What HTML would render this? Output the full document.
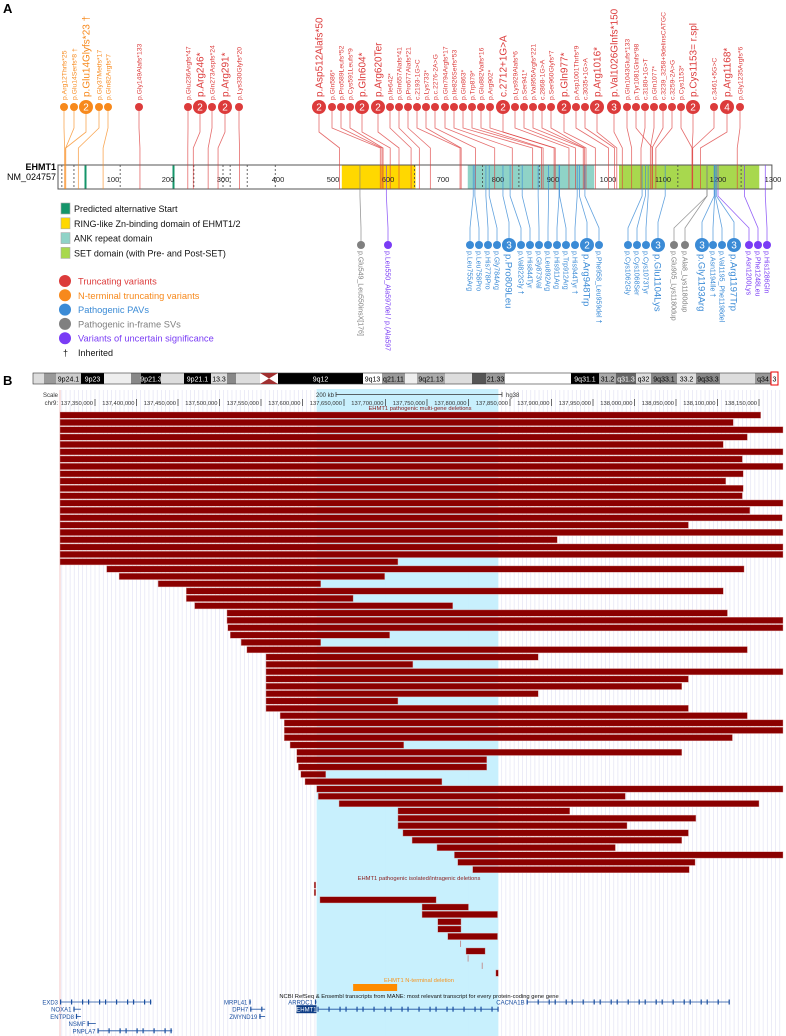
<!DOCTYPE html>
<html><head><meta charset="utf-8"><style>
body{margin:0;background:#fff;width:786px;height:1036px;overflow:hidden}
svg{display:block;font-family:"Liberation Sans",Arial,sans-serif}
</style></head><body>
<svg id="fig" width="786" height="1036" viewBox="0 0 786 1036" xmlns="http://www.w3.org/2000/svg">
<text x="3" y="13" font-size="13" font-weight="bold">A</text>
<text x="3" y="385" font-size="13" font-weight="bold">B</text>
<g id="gA"></g>
<g id="gB"></g>
</svg>
<script>
// ===== Panel A data =====
const domainNames=["RING-like","ANK","SET"];
const domainStart=[516,745,1020];
const domainEnd=[650,975,1275];
const domainColors=["#ffd800","#8fd3c7","#a8d84e"];
const altStarts=[50,210];
const exonBounds=[7,29,113,247,300,313,344,395,648,772,838,875,1127,1242];
const topLabels=["p.Arg12Thrfs*25","p.Glu14Serfs*8 †","p.Glu14Glyfs*23 †","p.Gly37Metfs*17","p.Gln82Argfs*7","p.Gly149Alafs*133","p.Glu236Argfs*47","p.Arg246*","p.Gln273Aspfs*24","p.Arg291*","p.Lys330Glyfs*20","p.Asp512Alafs*50","p.Gln586*","p.Pro589Leufs*52","p.Cys591Leufs*9","p.Gln604*","p.Arg620Ter","p.Ile642*","p.Gln657Alafs*41","p.Pro677Alafs*21","c.2193-1G>C","p.Lys733*","p.c.2276-2A>G","p.Gln794Argfs*17","p.Ile826Serfs*53","p.Gln863*","p.Trp879*","p.Glu882Valfs*16","p.Arg902*","c.2712+1G>A","p.Lys929Alafs*6","p.Ser941*","p.Val955Argfs*221","c.2868-1G>A","p.Ser960Glyfs*7","p.Gln977*","p.Asp1001Thrfs*9","c.3035+1G>A","p.Arg1016*","p.Val1026Glnfs*150","p.Gln1043Glufs*133","p.Tyr1081Glnfs*98","c.3180+1G>T","p.Gln1077*","c.3239_3258+9delinsCATGC","c.3259-2A>G","p.Cys1153*","p.Cys1153= r.spl","c.3461+5G>C","p.Arg1168*","p.Gly1235Argfs*6"];
const topAA=[12,14,14,37,82,149,236,246,273,291,330,512,586,589,591,604,620,642,657,677,731,733,759,794,826,863,879,882,902,904,929,941,955,957,960,977,1001,1012,1016,1026,1043,1081,1060,1077,1080,1087,1153,1153,1154,1168,1235];
const topCount=[1,1,2,1,1,1,1,2,1,2,1,2,1,1,1,2,2,1,1,1,1,1,1,1,1,1,1,1,1,2,1,1,1,1,1,2,1,1,2,3,1,1,1,1,1,1,1,2,1,4,1];
const topClass=["N","N","N","N","N","T","T","T","T","T","T","T","T","T","T","T","T","T","T","T","T","T","T","T","T","T","T","T","T","T","T","T","T","T","T","T","T","T","T","T","T","T","T","T","T","T","T","T","T","T","T"];
// lollipop head layout (label slots, px)
const topSlotX=[64,74,86,99,108,139,188,200,212,225,239,319,332,341,350,362,378,390,399,408,417,426,435,445,454,463,472,481,490,503,515,524,533,542,551,564,576,585,597,614,627,636,645,654,663,672,681,693,714,727,740];
const botLabels=["p.Glu549_Leu550insX[176]","p.Leu550_Ala597del / p.(Ala597","p.Leu755Arg","p.Leu758Pro","p.His778Pro","p.Gly784Arg","p.Pro809Leu","p.Val822Gly †","p.His844Tyr","p.Gly873Val","p.Leu892Arg","p.His911Arg","p.Trp912Arg","p.His944Tyr †","p.Arg948Trp","p.Phe958_Leu959del †","p.Cys1062Gly","p.Cys1068Ser","p.Cys1073Tyr","p.Glu1104Lys","p.Glu905_Lys1180dup","p.Ala8_Lys1180dup","p.Gly1193Arg","p.Asn1194Ile †","p.Val1195_Phe1198del","p.Arg1197Trp","p.Asn1200Lys","p.Phe1248Leu","p.His1286Gln"];
const botAA=[549,597,755,758,778,784,809,822,844,873,892,911,912,944,948,958,1062,1068,1073,1104,1180,1180,1193,1194,1195,1197,1200,1248,1286];
const botCount=[1,1,1,1,1,1,3,1,1,1,1,1,1,1,2,1,1,1,1,3,1,1,3,1,1,3,1,1,1];
const botClass=["G","U","P","P","P","P","P","P","P","P","P","P","P","P","P","P","P","P","P","P","G","G","P","P","P","P","U","U","U"];
const botSlotX=[361,388,470,479,488,497,509,521,530,539,548,557,566,575,587,599,628,637,646,658,674,685,702,713,722,734,749,758,767];

// ===== Panel B data =====
const tickLabels=["137,350,000","137,400,000","137,450,000","137,500,000","137,550,000","137,600,000","137,650,000","137,700,000","137,750,000","137,800,000","137,850,000","137,900,000","137,950,000","138,000,000","138,050,000","138,100,000","138,150,000"];
const tickKb=[137350,137400,137450,137500,137550,137600,137650,137700,137750,137800,137850,137900,137950,138000,138050,138100,138150];
const multiStart=[137300,137300,137300,137300,137300,137300,137300,137300,137300,137300,137300,137300,137300,137300,137300,137300,137300,137300,137300,137300,137300,137364,137379,137426,137460,137460,137470,137509,137509,137510,137513,137526,137533,137556,137556,137556,137556,137556,137556,137556,137556,137573,137578,137578,137578,137585,137593,137593,137595,137598,137603,137617,137619,137644,137715,137715,137715,137721,137732,137762,137783,137787,137805];
const multiEnd=[138152,138119,138200,138136,138107,138200,138130,138200,138131,138110,138131,138130,138200,138139,138178,138065,138200,137907,138200,138200,137715,138132,137699,137622,138107,137661,137781,138112,138200,138200,137705,137622,138136,137884,137733,138200,138065,138057,137884,137715,138065,138136,138200,138200,138118,137722,138057,137822,137822,137628,137768,138200,137989,138150,137922,138074,137991,138065,138057,137977,138200,138073,138066];
const isoStart=[137614,137614,137621,137744,137744,137763,137763,137775,137790,137797,137799,137816,137833];
const isoEnd=[137616,137616,137761,137800,137835,137791,137791,137835,137791,137820,137800,137817,137836];
const ntermStart=[137661];
const ntermEnd=[137714];
const geneNames=["EXD3","MRPL41","ARRDC1","CACNA1B","NOXA1","DPH7","EHMT1","ENTPD8","ZMYND19","NSMF","PNPLA7"];
const geneStart=[137300,137536,137615,137870,137324,137537,137618,137327,137548,137341,137353];
const geneEnd=[137418,137538,137617,138114,137333,137555,137836,137333,137555,137351,137443];
const geneRow=[0,0,0,0,1,1,1,2,2,3,4];

const NS="http://www.w3.org/2000/svg";
function mk(tag,attrs,parent,txt){const e=document.createElementNS(NS,tag);for(const k in attrs)e.setAttribute(k,attrs[k]);if(txt!==undefined)e.textContent=txt;parent.appendChild(e);return e;}
const colorOf={T:"#dc3b3b",N:"#f7891c",P:"#3b8bd6",G:"#808080",U:"#7a3cf5"};
const gA=document.getElementById('gA'), gB=document.getElementById('gB');

// ---- Panel A ----
const ax=aa=>58+aa*0.55;
const barY=165, barH=24;
let t=mk('text',{x:56,y:170,'font-size':9,'font-weight':'bold','text-anchor':'end'},gA,'EHMT1');

t=mk('text',{x:56,y:180,'font-size':9,'text-anchor':'end'},gA,'NM_024757');

let r=mk('rect',{x:ax(0),y:barY,width:ax(1298)-ax(0),height:barH,fill:'#fff',stroke:'#555','stroke-width':1},gA);

domainStart.forEach((s,i)=>{const d=mk('rect',{x:ax(s),y:barY+0.5,width:ax(domainEnd[i])-ax(s),height:barH-1,fill:domainColors[i]},gA);
});
altStarts.forEach(a=>{const l=mk('rect',{x:ax(a)-1,y:barY+0.5,width:2,height:barH-1,fill:'#14956a'},gA);
});
exonBounds.forEach(a=>{const l=mk('line',{x1:ax(a),x2:ax(a),y1:barY,y2:barY+barH,stroke:'#444','stroke-dasharray':'2,2','stroke-width':0.8},gA);
});
for(let k=1;k<=13;k++){const tl=mk('text',{x:ax(k*100),y:barY+17,'font-size':7.5,'text-anchor':'middle',fill:'#222'},gA,String(k*100));
}
// top lollipops
topAA.forEach((aa,i)=>{
  const c=colorOf[topClass[i]], x=ax(aa), cx=topSlotX[i], cy=107, big=topCount[i]>1, rr=big?7:4;
  const p=mk('polyline',{points:`${x},${barY+barH} ${x},148 ${cx},${big?132:128} ${cx},${cy}`,fill:'none',stroke:c,'stroke-width':0.8,opacity:0.75},gA);
  
  const ci=mk('circle',{cx:cx,cy:cy,r:rr,fill:c},gA);
  
  if(big){const n=mk('text',{x:cx,y:cy+3.5,'font-size':10,fill:'#fff','text-anchor':'middle'},gA,String(topCount[i]));
    }
  const fs=big?10:6.8, ly=cy-rr-3;
  const lt=mk('text',{x:cx+fs*0.35,y:ly,'font-size':fs,fill:c,transform:`rotate(-90 ${cx+fs*0.35} ${ly})`},gA,topLabels[i]);
  
});
// bottom lollipops
botAA.forEach((aa,i)=>{
  const c=colorOf[botClass[i]], x=ax(aa), cx=botSlotX[i], cy=245, big=botCount[i]>1, rr=big?7:4;
  const p=mk('polyline',{points:`${x},${barY} ${x},196 ${cx},${big?222:228} ${cx},${cy}`,fill:'none',stroke:c,'stroke-width':0.8,opacity:0.8},gA);
  
  const ci=mk('circle',{cx:cx,cy:cy,r:rr,fill:c},gA);
  
  if(big){const n=mk('text',{x:cx,y:cy+3.5,'font-size':10,fill:'#fff','text-anchor':'middle'},gA,String(botCount[i]));
    }
  const fs=big?9.5:7, ly=cy+rr+2;
  const lt=mk('text',{x:cx-fs*0.35,y:ly,'font-size':fs,fill:c,transform:`rotate(90 ${cx-fs*0.35} ${ly})`},gA,botLabels[i]);
  
});
// legend
const legBox=["Predicted alternative Start","RING-like Zn-binding domain of EHMT1/2","ANK repeat domain","SET domain (with Pre- and Post-SET)"];
const legBoxC=["#14956a","#ffd800","#8fd3c7","#a8d84e"];
legBox.forEach((s,i)=>{const y=203+i*14.8;
  const b=mk('rect',{x:61,y:y,width:9,height:11,fill:legBoxC[i],stroke:'#aaa','stroke-width':0.6},gA);
  
  const tt=mk('text',{x:74,y:y+9,'font-size':9,fill:'#111'},gA,s);
  });
const legCirc=["Truncating variants","N-terminal truncating variants","Pathogenic PAVs","Pathogenic in-frame SVs","Variants of uncertain significance"];
const legCircC=["#dc3b3b","#f7891c","#3b8bd6","#808080","#7a3cf5"];
legCirc.forEach((s,i)=>{const y=281+i*14.3;
  const b=mk('circle',{cx:65,cy:y,r:6,fill:legCircC[i]},gA);
  
  const tt=mk('text',{x:78,y:y+3.5,'font-size':9.3,fill:legCircC[i]},gA,s);
  });
t=mk('text',{x:63,y:356,'font-size':9,fill:'#111'},gA,'†');

t=mk('text',{x:78,y:356,'font-size':9,fill:'#111'},gA,'Inherited');


// ---- Panel B ----
const L=60,R=783;
const gx=kb=>344+(kb-137650)*41.5/50;
const cx=kb=>Math.max(L,Math.min(R,gx(kb)));
// ideogram
const bandS=[33,44,56,81,104,131,141,161,184,211,227,236,278,363,382,405,417,445,472,486,505,571,599,616,636,651,677,696,720,755];
const bandE=[44,56,81,104,131,141,161,184,211,227,236,260,363,382,405,417,445,472,486,505,571,599,616,636,651,677,696,720,755,771];
const bandF=["#ddd","#999","#ccc","#000","#eee","#888","#000","#ddd","#000","#ddd","#888","#ddd","#000","#fff","#999","#eee","#aaa","#ddd","#555","#999","#fff","#000","#aaa","#666","#ddd","#888","#ddd","#888","#ddd","#999"];
const bandT=["","","9p24.1","9p23","","","9p21.3","","9p21.1","13.3","","","9q12","9q13","q21.11","","9q21.13","","","21.33","","9q31.1","31.2","q31.3","q32","9q33.1","33.2","9q33.3","","q34"];
bandS.forEach((s,i)=>{const b=mk('rect',{x:s,y:373,width:bandE[i]-s,height:11,fill:bandF[i]},gB);
  
  if(bandT[i]){const dark=["#000","#555","#666"].includes(bandF[i]);
   const tt=mk('text',{x:(s+bandE[i])/2,y:381.5,'font-size':7,'text-anchor':'middle',fill:dark?'#fff':'#000'},gB,bandT[i]);
   }});
t=mk('rect',{x:33,y:373,width:738,height:11,fill:'none',stroke:'#333','stroke-width':0.6},gB);

t=mk('polygon',{points:'260,373 278,373 269,378.5 278,384 260,384 269,378.5',fill:'#a03030'},gB);

t=mk('rect',{x:771,y:372,width:7,height:13,fill:'#fff',stroke:'#e00','stroke-width':1},gB);

t=mk('text',{x:774.5,y:381.5,'font-size':7,'text-anchor':'middle'},gB,'3');

// grid + highlight
for(let kb=137310;kb<=138180;kb+=5){const x=gx(kb);if(x<L||x>R)continue;
  const l=mk('line',{x1:x,x2:x,y1:390,y2:1036,stroke:'#e4e4f4','stroke-width':0.7},gB);
  }
t=mk('rect',{x:gx(137617),y:389,width:gx(137836)-gx(137617),height:647,fill:'#c5effd',opacity:0.95},gB);

t=mk('line',{x1:L,x2:L,y1:390,y2:1036,stroke:'#f3c4c4','stroke-width':1},gB);

// ruler
t=mk('text',{x:58,y:397,'font-size':6,'text-anchor':'end',fill:'#333'},gB,'Scale');

t=mk('text',{x:58,y:405,'font-size':6,'text-anchor':'end',fill:'#333'},gB,'chr9:');

t=mk('text',{x:334,y:397,'font-size':6,'text-anchor':'end',fill:'#333'},gB,'200 kb');

t=mk('path',{d:`M336,392 V397 M336,394.5 H${336+166} M${336+166},392 V397`,stroke:'#333','stroke-width':0.7,fill:'none'},gB);

t=mk('text',{x:506,y:397,'font-size':6,fill:'#333'},gB,'hg38');

tickKb.forEach((kb,i)=>{const x=gx(kb);
  const l=mk('line',{x1:x,x2:x,y1:399,y2:406,stroke:'#333','stroke-width':0.7},gB);
  
  const tt=mk('text',{x:x-2,y:405,'font-size':5.8,'text-anchor':'end',fill:'#333'},gB,tickLabels[i]);
  });
t=mk('text',{x:420,y:410,'font-size':5.8,'text-anchor':'middle',fill:'#8b2020'},gB,'EHMT1 pathogenic multi-gene deletions');

const pitch=7.33;
multiStart.forEach((s,i)=>{const x1=cx(s),x2=cx(multiEnd[i]);
  const b=mk('rect',{x:x1,y:412+i*pitch,width:Math.max(1,x2-x1),height:6.3,fill:'#8b0000',stroke:'#d9a0a0','stroke-width':0.4},gB);
  });
t=mk('text',{x:419,y:880,'font-size':5.8,'text-anchor':'middle',fill:'#8b2020'},gB,'EHMT1 pathogenic isolated/intragenic deletions');

isoStart.forEach((s,i)=>{const x1=cx(s),x2=cx(isoEnd[i]);const w=x2-x1;
  const b=mk('rect',{x:x1,y:882+i*pitch,width:Math.max(0.8,w),height:6.3,fill:w<1.5?'#c08080':'#8b0000',stroke:w<1.5?'none':'#d9a0a0','stroke-width':0.4},gB);
  });
t=mk('text',{x:419,y:982,'font-size':5.8,'text-anchor':'middle',fill:'#f7941d'},gB,'EHMT1 N-terminal deletion');

ntermStart.forEach((s,i)=>{const b=mk('rect',{x:cx(s),y:984,width:cx(ntermEnd[i])-cx(s),height:7,fill:'#ff8c00'},gB);
  });
t=mk('text',{x:419,y:998,'font-size':5.8,'text-anchor':'middle',fill:'#111'},gB,'NCBI RefSeq & Ensembl transcripts from MANE: most relevant transcript for every protein-coding gene gene');

geneNames.forEach((g,i)=>{const y=1002+geneRow[i]*7.2;const x1=cx(geneStart[i]),x2=cx(geneEnd[i]);
  const l=mk('line',{x1:x1,x2:x2,y1:y,y2:y,stroke:'#1a4fa0','stroke-width':0.8},gB);
  
  for(let k=0;k*9<(x2-x1);k++){const ex=mk('rect',{x:x1+k*9+((k*7)%5),y:y-2.5,width:1.2,height:5,fill:'#1a4fa0'},gB);
    }
  if(g==='EHMT1'){const bx=mk('rect',{x:x1-21,y:y-4,width:20,height:8,fill:'#0d3c85'},gB);
    
    const tt=mk('text',{x:x1-11,y:y+2.5,'font-size':6,'text-anchor':'middle',fill:'#fff'},gB,g);
    }
  else{const tt=mk('text',{x:x1-2,y:y+2.5,'font-size':6,'text-anchor':'end',fill:'#1a4fa0'},gB,g);
    }});
</script>
</body></html>
